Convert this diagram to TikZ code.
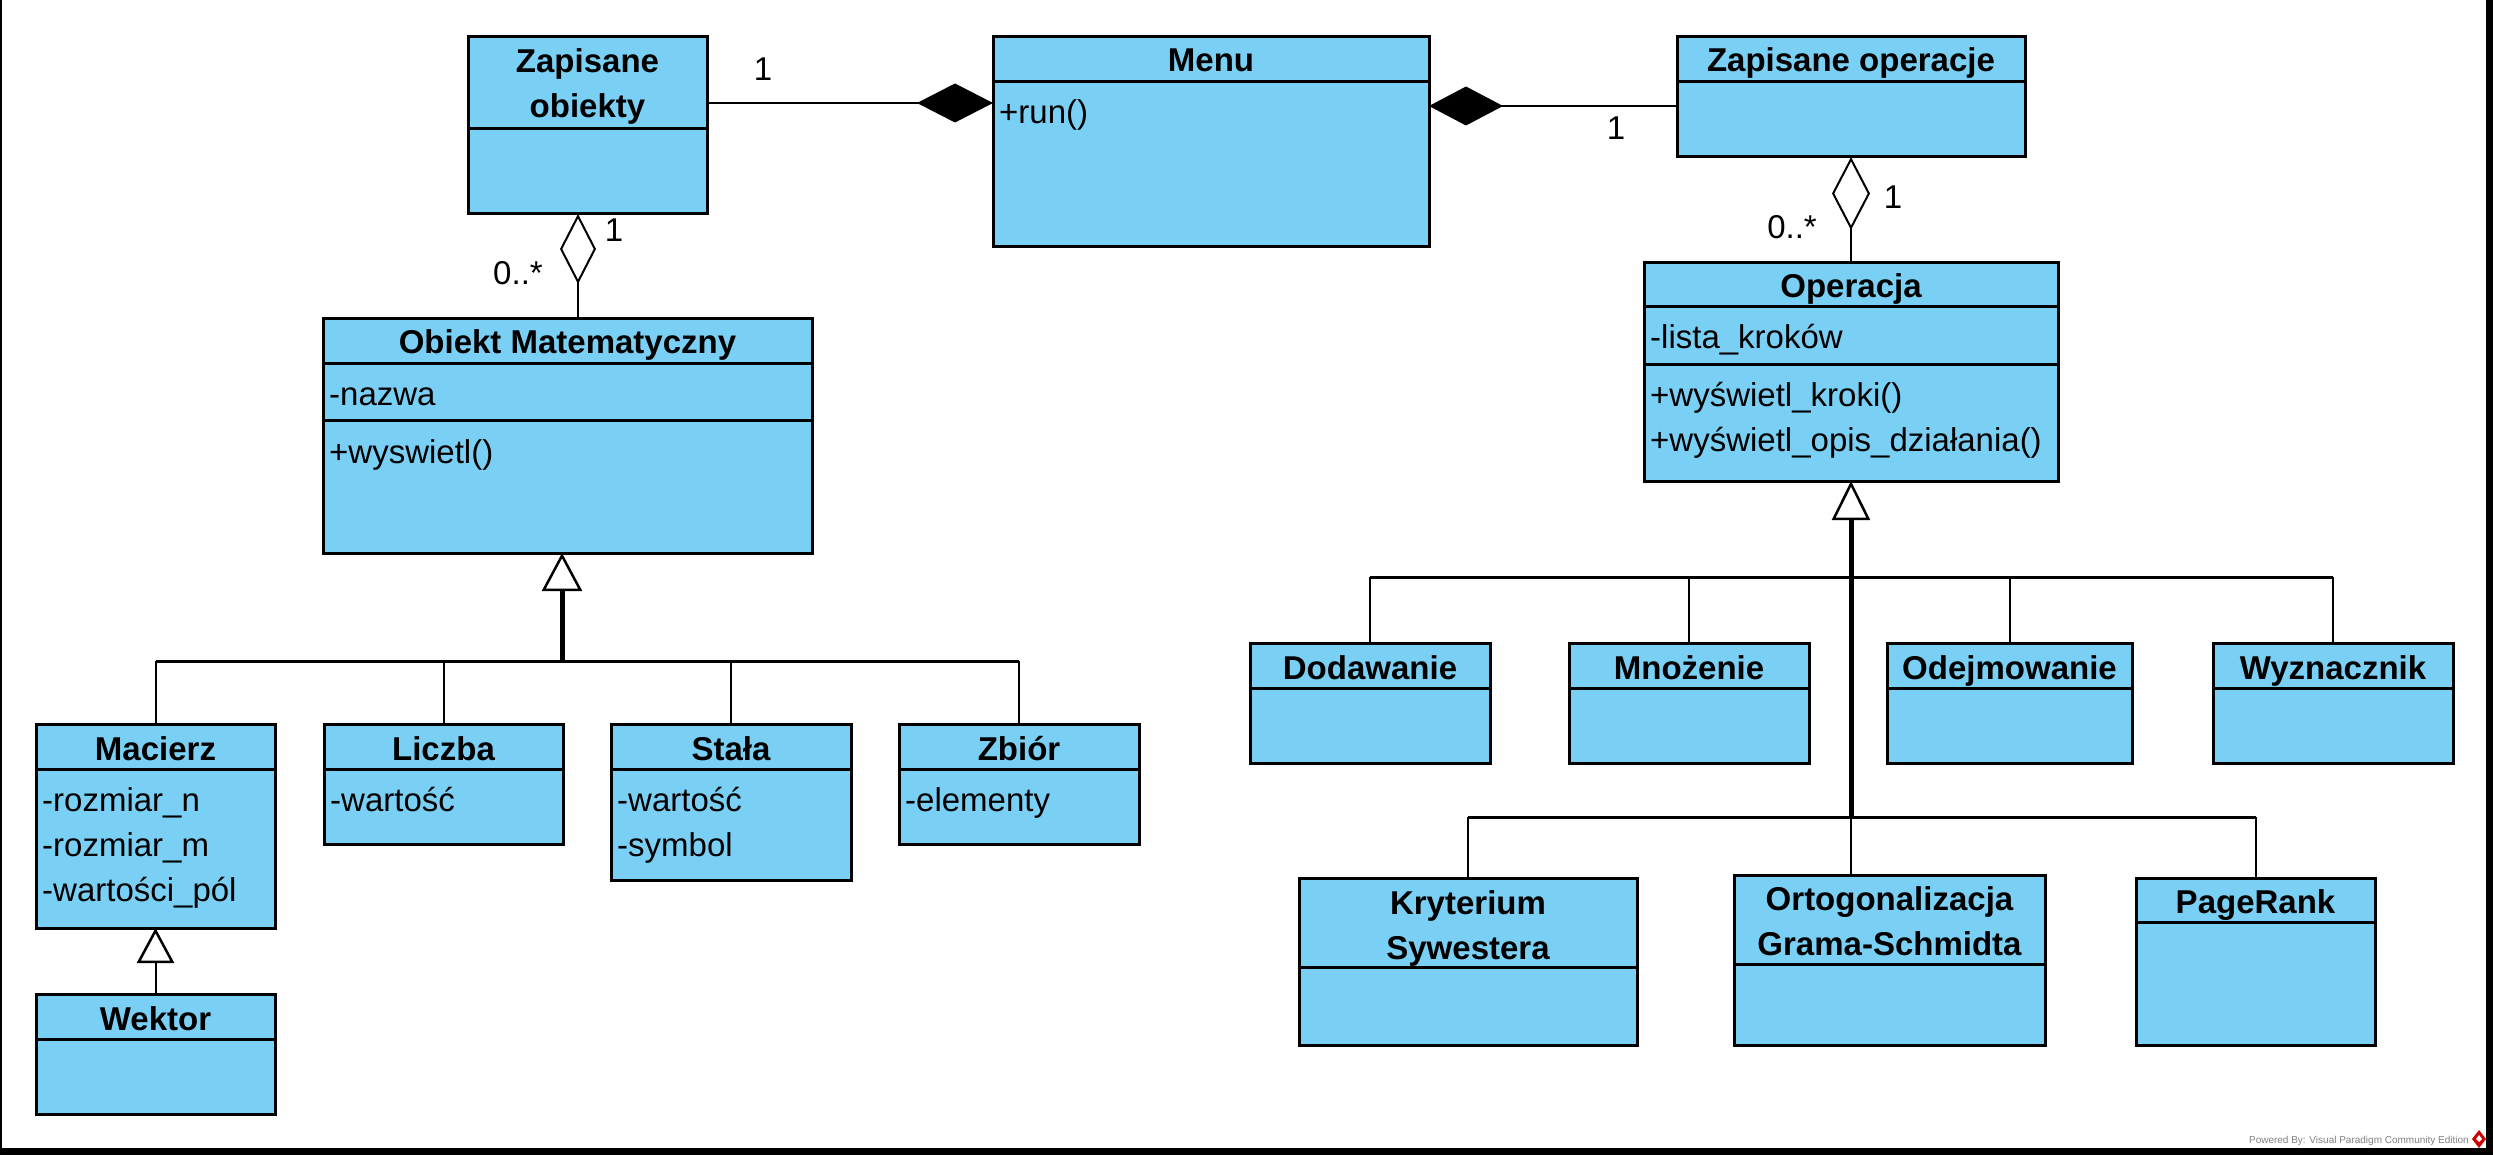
\documentclass[tikz,border=0pt]{standalone}
\usepackage{fontspec}
\setmainfont{Liberation Sans}
\usetikzlibrary{arrows.meta}
\definecolor{vpblue}{HTML}{7ACFF5}
\newcommand\umlbox[5]{\node[classbox, minimum width={(#4-#2)*1pt}, minimum height={(#5-#3)*1pt}] (#1) at ({(#2+#4)/2},{(#3+#5)/2}) {};}
\newcommand\umlsep[3]{\draw[sepline] (#1,#3) -- (#2,#3);}
\tikzset{
  classbox/.style={rectangle, draw=black, fill=vpblue, line width=3pt, inner sep=0pt, outer sep=0pt},
  sepline/.style={line width=3pt},
  umltitle/.style={font={\fontsize{33}{40}\selectfont\bfseries}, inner sep=0pt, anchor=base},
  umlattr/.style={font={\fontsize{33}{40}\selectfont}, inner sep=0pt, anchor=base west},
  umlmult/.style={font={\fontsize{33}{40}\selectfont}, inner sep=0pt, anchor=center},
  conn/.style={line width=2pt},
  genbar/.style={line width=3pt},
  trunk/.style={line width=5pt},
}
\begin{document}
\begin{tikzpicture}[x=1pt, y=-1pt]
\useasboundingbox (0,0) rectangle (2493,1155);
% frame
\draw[line width=2pt] (1,0) -- (1,1155);
\draw[line width=7pt] (2489.5,0) -- (2489.5,1151.5) -- (0,1151.5);

% Zapisane obiekty
\umlbox{zo}{468}{37}{707}{214}
\umlsep{468}{707}{129}
\node[umltitle] (zot1) at (587.5,73) {Zapisane};
\node[umltitle] (zot2) at (587.5,118) {obiekty};

% Menu
\umlbox{menu}{993}{37}{1429}{247}
\umlsep{993}{1429}{82}
\node[umltitle] (menut) at (1211,72) {Menu};
\node[umlattr] (menuo) at (999,124) {+run()};

% Zapisane operacje
\umlbox{zop}{1677}{37}{2025}{157}
\umlsep{1677}{2025}{82}
\node[umltitle] (zopt) at (1851,72) {Zapisane operacje};

% Obiekt Matematyczny
\umlbox{om}{323}{319}{812}{553}
\umlsep{323}{812}{364}
\umlsep{323}{812}{421}
\node[umltitle] (omt) at (567.5,354) {Obiekt Matematyczny};
\node[umlattr] (oma) at (329,406) {-nazwa};
\node[umlattr] (omo) at (329,463) {+wyswietl()};

% Operacja
\umlbox{op}{1644}{263}{2058}{481}
\umlsep{1644}{2058}{307}
\umlsep{1644}{2058}{365}
\node[umltitle] (opt) at (1851,298) {Operacja};
\node[umlattr] (opa) at (1650,349) {-lista\_kroków};
\node[umlattr] (opo1) at (1650,407) {+wyświetl\_kroki()};
\node[umlattr] (opo2) at (1650,452) {+wyświetl\_opis\_działania()};

% Macierz
\umlbox{mac}{36}{724}{275}{928}
\umlsep{36}{275}{769}
\node[umltitle] (mact) at (155.5,760) {Macierz};
\node[umlattr] (maca1) at (42,811) {-rozmiar\_n};
\node[umlattr] (maca2) at (42,856) {-rozmiar\_m};
\node[umlattr] (maca3) at (42,901) {-wartości\_pól};

% Liczba
\umlbox{lic}{324}{724}{563}{844}
\umlsep{324}{563}{769}
\node[umltitle] (lict) at (443.5,760) {Liczba};
\node[umlattr] (lica) at (330,811) {-wartość};

% Stala
\umlbox{sta}{611}{724}{851}{880}
\umlsep{611}{851}{769}
\node[umltitle] (stat) at (731,760) {Stała};
\node[umlattr] (staa1) at (617,811) {-wartość};
\node[umlattr] (staa2) at (617,856) {-symbol};

% Zbior
\umlbox{zb}{899}{724}{1139}{844}
\umlsep{899}{1139}{769}
\node[umltitle] (zbt) at (1019,760) {Zbiór};
\node[umlattr] (zba) at (905,811) {-elementy};

% Wektor
\umlbox{wek}{36}{994}{275}{1114}
\umlsep{36}{275}{1039}
\node[umltitle] (wekt) at (155.5,1030) {Wektor};

% Operations row 1
\umlbox{dod}{1250}{643}{1490}{763}
\umlsep{1250}{1490}{688}
\node[umltitle] (dodt) at (1370,679) {Dodawanie};
\umlbox{mno}{1569}{643}{1809}{763}
\umlsep{1569}{1809}{688}
\node[umltitle] (mnot) at (1689,679) {Mnożenie};
\umlbox{odj}{1887}{643}{2132}{763}
\umlsep{1887}{2132}{688}
\node[umltitle] (odjt) at (2009.5,679) {Odejmowanie};
\umlbox{wyz}{2213}{643}{2453}{763}
\umlsep{2213}{2453}{688}
\node[umltitle] (wyzt) at (2333,679) {Wyznacznik};

% Operations row 2
\umlbox{kry}{1299}{878}{1637}{1045}
\umlsep{1299}{1637}{967}
\node[umltitle] (kryt1) at (1468,914) {Kryterium};
\node[umltitle] (kryt2) at (1468,959) {Sywestera};
\umlbox{ort}{1734}{875}{2045}{1045}
\umlsep{1734}{2045}{964}
\node[umltitle] (ortt1) at (1889.5,910) {Ortogonalizacja};
\node[umltitle] (ortt2) at (1889.5,955) {Grama-Schmidta};
\umlbox{pr}{2136}{878}{2375}{1045}
\umlsep{2136}{2375}{922}
\node[umltitle] (prt) at (2255.5,913) {PageRank};

% compositions
\draw[conn, -{Diamond[length=76pt,width=39pt,line width=1pt]}] (zo.east |- 0,103) -- (menu.west |- 0,103);
\draw[conn, {Diamond[length=74pt,width=39pt,line width=1pt]}-] (menu.east |- 0,106) -- (zop.west |- 0,106);
% aggregations
\draw[conn, {Diamond[open,length=70pt,width=36pt,line width=2pt]}-] (zo.south -| 578,0) -- (om.north -| 578,0);
\draw[conn, {Diamond[open,length=73pt,width=38pt,line width=2pt]}-] (zop.south) -- (op.north);
% multiplicities
\node[umlmult] (m1) at (763,69) {1};
\node[umlmult] (m2) at (614,230) {1};
\node[umlmult] (m3) at (518,273) {0..*};
\node[umlmult] (m4) at (1616,128) {1};
\node[umlmult] (m5) at (1893,197) {1};
\node[umlmult] (m6) at (1792,227) {0..*};

% generalization: Obiekt Matematyczny
\coordinate (j1) at (562,661);
\draw[trunk, {Triangle[open,length=38pt,width=40pt,line width=2.5pt]}-] (om.south -| j1) -- (j1);
\draw[genbar] (mac.north |- j1) -- (zb.north |- j1);
\foreach \n in {mac,lic,sta,zb} \draw[conn] (\n.north |- j1) -- (\n.north);
% Wektor -> Macierz
\draw[conn, {Triangle[open,length=35pt,width=37pt,line width=2.5pt]}-] (mac.south) -- (wek.north);

% generalization: Operacja
\coordinate (j2) at (1851,577);
\coordinate (j3) at (1851,817);
\draw[trunk, {Triangle[open,length=39pt,width=38pt,line width=2.5pt]}-] (op.south) -- (j3);
\draw[genbar] (dod.north |- j2) -- (wyz.north |- j2);
\foreach \n in {dod,mno,odj,wyz} \draw[conn] (\n.north |- j2) -- (\n.north);
\draw[genbar] (kry.north |- j3) -- (pr.north |- j3);
\draw[conn] (kry.north |- j3) -- (kry.north);
\draw[conn] (j3) -- (j3 |- ort.north);
\draw[conn] (pr.north |- j3) -- (pr.north);

% footer
\node[font={\fontsize{10}{12}\selectfont}, text=gray, anchor=base east, inner sep=0pt] (pb) at (2469,1143) {Powered By: Visual Paradigm Community Edition};
\fill[red!80!black] (2479,1130) -- (2486,1139) -- (2479,1148) -- (2472,1139) -- cycle;
\fill[white] (2479,1135) -- (2482,1139) -- (2479,1142) -- (2476,1139) -- cycle;
\end{tikzpicture}
\end{document}
